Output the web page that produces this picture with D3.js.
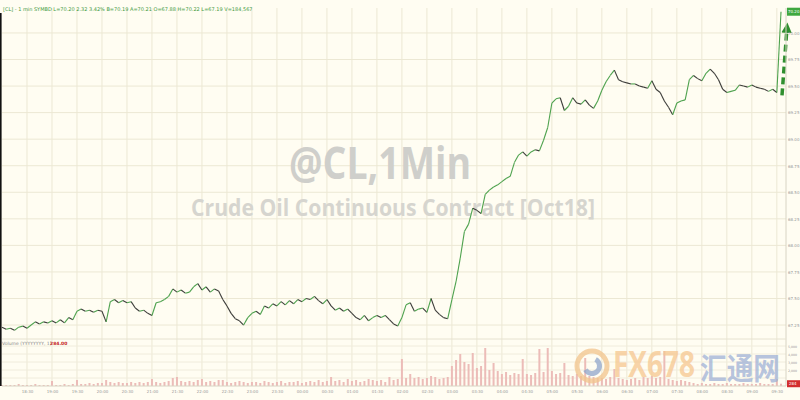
<!DOCTYPE html>
<html><head><meta charset="utf-8">
<script src="https://cdn.jsdelivr.net/npm/d3@7"></script>
<style>
html,body{margin:0;padding:0;background:#fffdf2;}
svg{display:block;}
</style></head>
<body>
<svg id="chart" width="800" height="400"></svg>
<script>
// ---- data (5-minute samples) ----
const startTime = "18:00";
const stepMinutes = 5;
const prices = [
67.23,67.21,67.22,67.20,67.23,67.24,67.22,67.25,67.28,67.26,67.28,67.27,67.29,67.27,67.30,67.27,67.32,67.30,67.38,67.40,
67.38,67.39,67.37,67.39,67.38,67.28,67.47,67.49,67.46,67.48,67.46,67.47,67.41,67.38,67.39,67.36,67.34,67.46,67.47,67.49,
67.52,67.59,67.56,67.58,67.55,67.56,67.61,67.64,67.58,67.61,67.56,67.59,67.57,67.49,67.43,67.36,67.31,67.29,67.25,67.32,
67.36,67.38,67.35,67.43,67.41,67.45,67.43,67.47,67.44,67.48,67.45,67.49,67.47,67.50,67.49,67.52,67.48,67.45,67.49,67.43,
67.39,67.41,67.38,67.40,67.36,67.32,67.30,67.34,67.29,67.32,67.34,67.32,67.34,67.30,67.26,67.24,67.32,67.44,67.46,67.38,
67.40,67.41,67.37,67.50,67.39,67.35,67.32,67.31,67.49,67.66,67.88,68.13,68.20,68.35,68.33,68.30,68.48,68.52,68.55,68.57,
68.60,68.63,68.65,68.78,68.85,68.88,68.84,68.88,68.90,68.89,68.99,69.11,69.34,69.38,69.39,69.27,69.31,69.39,69.34,69.33,
69.37,69.32,69.29,69.36,69.46,69.54,69.60,69.65,69.56,69.54,69.53,69.52,69.52,69.50,69.49,69.48,69.55,69.47,69.44,69.36,
69.30,69.23,69.34,69.36,69.37,69.56,69.60,69.57,69.55,69.62,69.66,69.62,69.56,69.47,69.44,69.45,69.46,69.51,69.50,69.49,
69.51,69.49,69.48,69.47,69.45,69.47,69.44,70.20
];
const volumes = [
125,125,125,125,250,125,125,125,250,125,125,125,625,125,125,250,125,250,750,250,
250,375,250,375,375,750,500,375,500,375,375,500,375,500,375,500,875,500,375,500,
625,1000,1125,625,500,625,500,750,875,500,625,500,750,750,500,375,500,625,500,375,
500,500,375,625,500,375,500,625,375,500,500,625,375,500,625,500,750,500,625,1125,
625,750,500,875,625,750,500,625,875,750,625,750,500,1125,750,875,3375,1000,1500,1000,
1125,875,1000,1250,1125,875,1000,1125,2500,3250,4000,3000,2750,4125,2250,2500,4750,2000,2875,1875,
1500,1750,1375,1625,1500,3375,1500,1375,1625,4625,1750,4750,1875,1500,1625,2875,1375,1250,1500,1250,
3500,1250,1125,1000,1000,875,1125,2125,1000,875,750,875,1000,750,1125,1000,1250,1000,1125,4375,
875,750,625,750,625,500,375,250,375,250,250,375,250,250,375,250,250,250,375,250,
250,250,375,250,250,250,875,284
];
const priceTicks = [67.25,67.50,67.75,68.00,68.25,68.50,68.75,69.00,69.25,69.50,69.75,70.00];
const volumeTicks = [2000,3000,4000,5000];
const timeTickLabels = ["18:30","19:00","19:30","20:00","20:30","21:00","21:30","22:00","22:30","23:00","23:30","00:00",
"00:30","01:00","01:30","02:00","02:30","03:00","03:30","04:00","04:30","05:00","05:30","06:00","06:30","07:00",
"07:30","08:00","08:30","09:00","09:30"];
const titleMain = "@CL,1Min";
const titleSub = "Crude Oil Continuous Contract [Oct18]";
const headerText = "[CL] - 1 min   SYMBD   L=70.20   2.32   3.42%   B=70.19   A=70.21   O=67.88   H=70.22   L=67.19   V=184,567";
const volumeLabel = "Volume (YYYYYYYY, 1)";
const lastVolume = "284.00";

// ---- layout ----
const svg = d3.select("#chart");
const W = 800, H = 400;
const plotL = 2, plotR = 786;
const priceTop = 8, priceBot = 338;
const volBot = 386;

const parse = d3.timeParse("%H:%M");
const t0 = parse(startTime);
const tEnd = new Date(t0.getTime() + 941*60000);
const times = prices.map((p,i)=> new Date(t0.getTime() + i*stepMinutes*60000));

const x = d3.scaleTime().domain([t0, tEnd]).range([plotL, plotR]);
const y = d3.scaleLinear().domain([67.128, 70.235]).range([priceBot, priceTop]);
const yv = d3.scaleLinear().domain([0, 5000]).range([volBot, volBot-40]);

svg.append("rect").attr("width",W).attr("height",H).attr("fill","#fffdf2");

// grid
const gridColor = "#ece8d4";
const tickTimes = timeTickLabels.map((s,i)=> new Date(t0.getTime() + (i+1)*30*60000));
svg.append("g").selectAll("line").data(tickTimes).join("line")
  .attr("x1",d=>x(d)).attr("x2",d=>x(d)).attr("y1",priceTop).attr("y2",volBot)
  .attr("stroke",gridColor).attr("stroke-width",1);
svg.append("g").selectAll("line").data(priceTicks).join("line")
  .attr("x1",plotL).attr("x2",plotR).attr("y1",d=>y(d)).attr("y2",d=>y(d))
  .attr("stroke",gridColor).attr("stroke-width",1);
svg.append("g").selectAll("line").data([1000,2000,3000,4000,5000]).join("line")
  .attr("x1",plotL).attr("x2",plotR).attr("y1",d=>yv(d)).attr("y2",d=>yv(d))
  .attr("stroke","#f0ecdc").attr("stroke-width",1);

// watermark titles
svg.append("text").attr("x",380).attr("y",179).attr("text-anchor","middle")
  .attr("font-family","'Open Sans', sans-serif").attr("font-weight","bold").attr("font-size",44)
  .attr("textLength",182).attr("lengthAdjust","spacingAndGlyphs")
  .attr("fill","#cfcfcb").text(titleMain);
svg.append("text").attr("x",393).attr("y",216).attr("text-anchor","middle")
  .attr("font-family","'Open Sans', sans-serif").attr("font-weight","bold").attr("font-size",24)
  .attr("textLength",404).attr("lengthAdjust","spacingAndGlyphs")
  .attr("fill","#d6d5cf").text(titleSub);

// volume bars
svg.append("g").selectAll("rect").data(volumes).join("rect")
  .attr("x",(d,i)=>x(times[i])-1).attr("width",2)
  .attr("y",d=>yv(d)).attr("height",d=>volBot-yv(d))
  .attr("fill","#ecbcb8");

// logo watermark
const logo = svg.append("g").attr("opacity",0.75);
logo.append("circle").attr("cx",592).attr("cy",366).attr("r",15).attr("fill","none")
  .attr("stroke","#f2c48c").attr("stroke-width",5);
logo.append("path").attr("d",d3.arc()({innerRadius:5,outerRadius:10,startAngle:0.5,endAngle:4.2}))
  .attr("transform","translate(592,366)").attr("fill","#8fa6cc");
logo.append("text").attr("x",613).attr("y",377).attr("font-family","'Open Sans', sans-serif")
  .attr("font-weight","bold").attr("font-size",35).attr("fill","#f6c790").attr("textLength",82)
  .attr("lengthAdjust","spacingAndGlyphs").text("FX678");
logo.append("text").attr("x",700).attr("y",379).attr("font-family","'Noto Sans CJK SC', sans-serif")
  .attr("font-weight","bold").attr("font-size",30).attr("fill","#9fb1d6").attr("textLength",80)
  .attr("lengthAdjust","spacingAndGlyphs").text("汇通网");

// price line coloured by direction
const segs = prices.slice(1).map((p,i)=>({x1:x(times[i]),y1:y(prices[i]),x2:x(times[i+1]),y2:y(p),up:p>=prices[i]}));
svg.append("g").selectAll("line").data(segs).join("line")
  .attr("x1",d=>d.x1).attr("y1",d=>d.y1).attr("x2",d=>d.x2).attr("y2",d=>d.y2)
  .attr("stroke",d=>d.up?"#4ea24e":"#3d3d3a").attr("stroke-width",1.1);

// arrow
const arrowStart = {t: times[prices.length-1], p: 69.44};
svg.append("defs").append("marker").attr("id","ah").attr("viewBox","0 0 10 10")
  .attr("refX",5).attr("refY",5).attr("markerWidth",3).attr("markerHeight",3).attr("orient","auto")
  .append("path").attr("d","M0,0L10,5L0,10Z").attr("fill","#2f8f2f");
svg.append("line").attr("x1",x(arrowStart.t)+1).attr("y1",y(arrowStart.p)+3)
  .attr("x2",x(arrowStart.t)+6).attr("y2",y(70.05))
  .attr("stroke","#2f8f2f").attr("stroke-width",3.5).attr("stroke-dasharray","7,4")
  .attr("marker-end","url(#ah)");

// axes
svg.append("line").attr("x1",plotR).attr("x2",plotR).attr("y1",priceTop).attr("y2",volBot).attr("stroke","#d8d4c4");
svg.append("line").attr("x1",plotL).attr("x2",plotR).attr("y1",volBot).attr("y2",volBot).attr("stroke","#d8d4c4");
svg.append("line").attr("x1",plotL).attr("x2",plotR).attr("y1",priceBot+1).attr("y2",priceBot+1).attr("stroke","#e6e2d0");
svg.append("rect").attr("x",0).attr("y",13).attr("width",1.6).attr("height",volBot-13).attr("fill","#111");

const yAxis = d3.axisRight(y).tickValues(priceTicks).tickSize(0).tickPadding(2).tickFormat(d3.format(".2f"));
svg.append("g").attr("transform",`translate(${plotR},0)`).call(yAxis)
  .call(g=>g.select(".domain").remove())
  .selectAll("text").attr("font-size",4).attr("fill","#999").attr("font-family","'DejaVu Sans'");
const vAxis = d3.axisRight(yv).tickValues(volumeTicks).tickSize(0).tickPadding(2).tickFormat(d3.format(","));
svg.append("g").attr("transform",`translate(${plotR},0)`).call(vAxis)
  .call(g=>g.select(".domain").remove())
  .selectAll("text").attr("font-size",3.2).attr("fill","#999").attr("font-family","'DejaVu Sans'");

const xAxis = d3.axisBottom(x).tickValues(tickTimes).tickSize(0).tickPadding(3).tickFormat((d,i)=>timeTickLabels[i]);
svg.append("g").attr("transform",`translate(0,${volBot+1})`).call(xAxis)
  .call(g=>g.select(".domain").remove())
  .selectAll("text").attr("font-size",4).attr("fill","#999").attr("font-family","'DejaVu Sans'");

// last price badge
const lastP = prices[prices.length-1];
svg.append("rect").attr("x",plotR+1).attr("y",y(lastP)-4).attr("width",13).attr("height",8).attr("fill","#3fa83f");
svg.append("text").attr("x",plotR+2).attr("y",y(lastP)+1.5).attr("font-size",4).attr("fill","#fff")
  .attr("font-family","'DejaVu Sans'").text(d3.format(".2f")(lastP));
// last volume badge
svg.append("rect").attr("x",plotR+1).attr("y",yv(volumes[volumes.length-1])-3.5).attr("width",13).attr("height",7).attr("fill","#d32f2f");
svg.append("text").attr("x",plotR+3).attr("y",yv(volumes[volumes.length-1])+1.5).attr("font-size",4).attr("fill","#fff")
  .attr("font-family","'DejaVu Sans'").text("284");

// header & volume label
svg.append("text").attr("x",3).attr("y",11).attr("font-size",5).attr("fill","#3f9a3f")
  .attr("font-family","'DejaVu Sans'").text(headerText);
svg.append("text").attr("x",2).attr("y",345).attr("font-size",4.5).attr("fill","#8a8a8a")
  .attr("font-family","'DejaVu Sans'").text(volumeLabel);
svg.append("text").attr("x",50).attr("y",345).attr("font-size",4.5).attr("fill","#c62828").attr("font-weight","bold")
  .attr("font-family","'DejaVu Sans'").text(lastVolume);
</script>
</body></html>
